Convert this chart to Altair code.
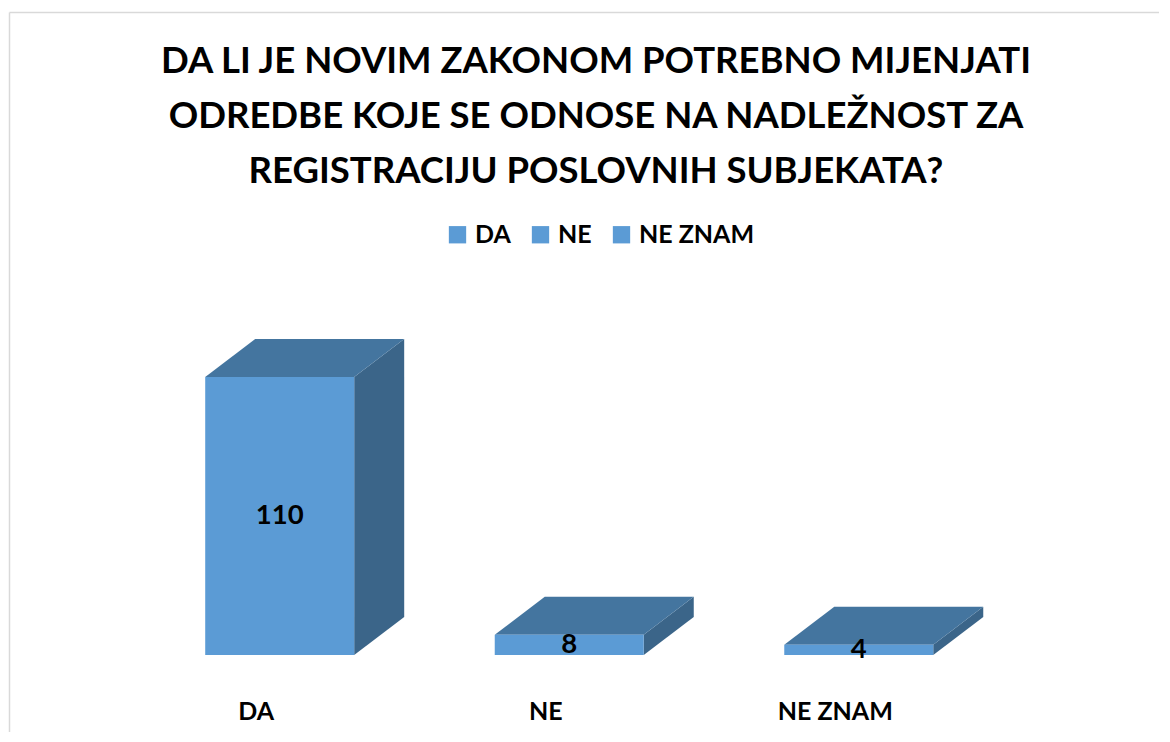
import altair as alt
import pandas as pd

# ---- data ----
categories = ["DA", "NE", "NE ZNAM"]
values = [110, 8, 4]
title_lines = [
    "DA LI JE NOVIM ZAKONOM POTREBNO MIJENJATI",
    "ODREDBE KOJE SE ODNOSE NA NADLEŽNOST ZA",
    "REGISTRACIJU POSLOVNIH SUBJEKATA?",
]

# ---- style / geometry constants ----
FRONT = "#5B9BD5"
TOP = "#44759F"
SIDE = "#3B6589"
FRAME = "#D9D9D9"
FONT = "Lato"
HW = 0.2573      # half bar width (category units)
DX = 0.1727      # 3D depth, x (category units)
DY = 15.04       # 3D depth, y (value units)

xscale = alt.Scale(domain=[-0.935, 3.037], nice=False, zero=False)
yscale = alt.Scale(domain=[-30.5, 254.5], nice=False, zero=False)
yaxis = alt.Axis(domain=True, domainColor=FRAME, domainWidth=1.5, ticks=False,
                 labels=False, grid=False, title=None)

front_rows, top_rows, side_rows = [], [], []
for i, (c, v) in enumerate(zip(categories, values)):
    front_rows.append({"cat": c, "x0": i - HW, "x1": i + HW, "y0": 0, "y1": v,
                       "xm": i, "ym": v / 2, "label": str(v)})
    for xx, lo, hi in [(i - HW, v, v), (i - HW + DX, v, v + DY),
                       (i + HW, v, v + DY), (i + HW + DX, v + DY, v + DY)]:
        top_rows.append({"cat": c, "x": xx, "lo": lo, "hi": hi})
    for xx, lo, hi in [(i + HW, 0, v), (i + HW + DX, DY, v + DY)]:
        side_rows.append({"cat": c, "x": xx, "lo": lo, "hi": hi})

front_df = pd.DataFrame(front_rows)
top_df = pd.DataFrame(top_rows)
side_df = pd.DataFrame(side_rows)

front = alt.Chart(front_df).mark_rect().encode(
    x=alt.X("x0:Q", scale=xscale,
            axis=alt.Axis(orient="bottom", values=[0, 1, 2], domain=False, ticks=False,
                          grid=False, title=None, labelFont=FONT, labelFontSize=25,
                          labelFontWeight="bold", labelColor="black",
                          labelBaseline="middle", labelPadding=-21,
                          labelOffset=-24, labelFlush=False, labelOverlap=False,
                          labelExpr="['DA','NE','NE ZNAM'][datum.value]")),
    x2="x1:Q",
    y=alt.Y("y0:Q", scale=yscale, axis=yaxis),
    y2="y1:Q",
    color=alt.Color("cat:N",
                    scale=alt.Scale(domain=categories, range=[FRONT, FRONT, FRONT]),
                    legend=alt.Legend(orient="none", direction="horizontal", title=None,
                                      legendX=436, legendY=210, padding=0,
                                      symbolType="square", symbolSize=300,
                                      symbolStrokeWidth=0, symbolOpacity=1,
                                      labelFont=FONT, labelFontSize=25,
                                      labelFontWeight="bold", labelColor="black",
                                      labelOffset=5, columnPadding=17)),
)

top = alt.Chart(top_df).mark_area(color=TOP, opacity=1).encode(
    x=alt.X("x:Q", scale=xscale,
            axis=alt.Axis(orient="top", domain=True, domainColor=FRAME, domainWidth=1.5,
                          ticks=False, labels=False, grid=False, title=None)),
    y=alt.Y("lo:Q", scale=yscale, axis=yaxis),
    y2="hi:Q",
    detail="cat:N",
)

side = alt.Chart(side_df).mark_area(color=SIDE, opacity=1).encode(
    x=alt.X("x:Q", scale=xscale, axis=None),
    y=alt.Y("lo:Q", scale=yscale, axis=yaxis),
    y2="hi:Q",
    detail="cat:N",
)

labels = alt.Chart(front_df).mark_text(font=FONT, fontSize=27.5, fontWeight="bold",
                                       color="black", baseline="middle").encode(
    x=alt.X("xm:Q", scale=xscale, axis=None),
    y=alt.Y("ym:Q", scale=yscale, axis=yaxis),
    text="label:N",
)

chart = alt.layer(side, top, front, labels).resolve_axis(x="independent").properties(
    width=1150, height=720,
    autosize=alt.AutoSizeParams(type="none"),
    padding={"left": 1, "top": 4, "right": 0, "bottom": 0},
    title=alt.TitleParams(text=title_lines, anchor="middle", font=FONT, fontSize=36.5,
                          fontWeight="bold", color="black", lineHeight=55,
                          offset=0, dx=12, dy=178),
    background="white",
).configure_view(stroke=None)

chart.save("out.html", embed_options={"renderer": "svg", "actions": False})
